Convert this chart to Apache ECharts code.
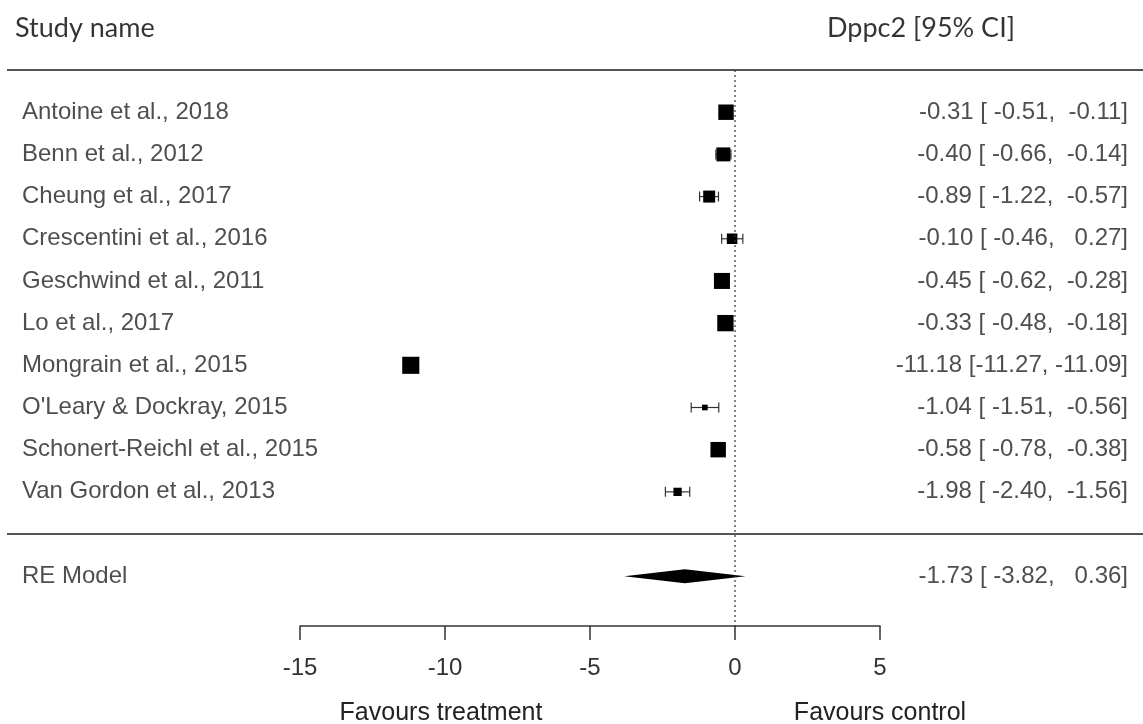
<!DOCTYPE html>
<html>
<head>
    <meta charset="utf-8" />
    <title>Forest plot - Dppc2</title>
    <script src="https://cdn.jsdelivr.net/npm/echarts@6/dist/echarts.min.js"></script>
    <style>
        * { margin: 0; padding: 0; box-sizing: border-box }
        body { background: #fff }
        #forest-chart { width: 1143px; height: 724px }
    </style>
</head>
<body>
    <div id="forest-chart"></div>

    <script>
        // study rows, top to bottom
        const studies = ['Antoine et al., 2018', 'Benn et al., 2012', 'Cheung et al., 2017', 'Crescentini et al., 2016',
            'Geschwind et al., 2011', 'Lo et al., 2017', 'Mongrain et al., 2015', "O'Leary & Dockray, 2015",
            'Schonert-Reichl et al., 2015', 'Van Gordon et al., 2013'];
        const estimates = [-0.31, -0.40, -0.89, -0.10, -0.45, -0.33, -11.18, -1.04, -0.58, -1.98];
        const lowerCI = [-0.51, -0.66, -1.22, -0.46, -0.62, -0.48, -11.27, -1.51, -0.78, -2.40];
        const upperCI = [-0.11, -0.14, -0.57, 0.27, -0.28, -0.18, -11.09, -0.56, -0.38, -1.56];

        const pooledLabel = 'RE Model';
        const pooledEstimate = -1.73;
        const pooledLower = -3.82;
        const pooledUpper = 0.36;

        const xTicks = [-15, -10, -5, 0, 5];
        const refValue = 0;

        const chart = echarts.init(document.getElementById('forest-chart'));

        const k = studies.length;
        const ROW_MIN = -2.18, ROW_MAX = 12.66;
        const PAGE_W = 1143;
        const LABEL_FONT = "'Liberation Sans', Arial, sans-serif";
        const HEAD_FONT = "Lato, 'Open Sans', sans-serif";

        function pad(s, n) { while (s.length < n) s = ' ' + s; return s; }
        function ciText(e, l, u) {
            return e.toFixed(2) + ' [' + pad(l.toFixed(2), 6) + ', ' + pad(u.toFixed(2), 6) + ']';
        }

        // box size like metafor: linear in weight, rescaled to 0.5..1.5
        const vi = lowerCI.map((l, i) => Math.pow((upperCI[i] - l) / 3.92, 2));
        const viMin = Math.min(...vi), viMax = Math.max(...vi);
        const boxSize = vi.map(v => 11.4 * (0.5 + (viMax - v) / (viMax - viMin)));

        const studyData = studies.map((s, i) => [estimates[i], lowerCI[i], upperCI[i], k - i, boxSize[i]]);
        const pooledData = [[pooledEstimate, pooledLower, pooledUpper, -1]];

        const nameLabels = studies.map((s, i) => [22, k - i, s]).concat([[22, -1, pooledLabel]]);
        const ciLabels = studies.map((s, i) => [1128, k - i, ciText(estimates[i], lowerCI[i], upperCI[i])])
            .concat([[1128, -1, ciText(pooledEstimate, pooledLower, pooledUpper)]]);
        const headLabels = [[15, k + 2, 'Study name'], [827, k + 2, 'Dppc2 [95% CI]']];

        function renderStudy(params, api) {
            const est = api.value(0), lo = api.value(1), hi = api.value(2), row = api.value(3), size = api.value(4);
            const pLo = api.coord([lo, row]), pHi = api.coord([hi, row]), pE = api.coord([est, row]);
            const cap = 5;
            const ls = { stroke: '#333', lineWidth: 1.2 };
            return {
                type: 'group',
                children: [
                    { type: 'line', shape: { x1: pLo[0], y1: pLo[1], x2: pHi[0], y2: pHi[1] }, style: ls },
                    { type: 'line', shape: { x1: pLo[0], y1: pLo[1] - cap, x2: pLo[0], y2: pLo[1] + cap }, style: ls },
                    { type: 'line', shape: { x1: pHi[0], y1: pHi[1] - cap, x2: pHi[0], y2: pHi[1] + cap }, style: ls },
                    { type: 'rect', shape: { x: pE[0] - size / 2, y: pE[1] - size / 2, width: size, height: size }, style: { fill: '#000' } }
                ]
            };
        }

        function renderDiamond(params, api) {
            const est = api.value(0), lo = api.value(1), hi = api.value(2), row = api.value(3);
            const pLo = api.coord([lo, row]), pHi = api.coord([hi, row]), pE = api.coord([est, row]);
            const h = 7;
            return {
                type: 'polygon',
                shape: { points: [[pLo[0], pLo[1]], [pE[0], pE[1] - h], [pHi[0], pHi[1]], [pE[0], pE[1] + h]] },
                style: { fill: '#000' }
            };
        }

        const option = {
            animation: false,
            backgroundColor: '#fff',
            grid: [
                { left: 300, right: 263, top: 0, bottom: 98 },
                { left: 0, right: 0, top: 0, bottom: 98 }
            ],
            xAxis: [
                {
                    gridIndex: 0, type: 'value', min: xTicks[0], max: xTicks[xTicks.length - 1], interval: 5,
                    axisLine: { show: true, onZero: false, lineStyle: { color: '#333', width: 1.5 } },
                    axisTick: { show: true, length: 14, lineStyle: { color: '#333', width: 1.5 } },
                    axisLabel: { color: '#333', fontSize: 24, fontFamily: LABEL_FONT, margin: 30 },
                    splitLine: { show: false }
                },
                { gridIndex: 1, type: 'value', min: 0, max: PAGE_W, show: false }
            ],
            yAxis: [
                { gridIndex: 0, type: 'value', min: ROW_MIN, max: ROW_MAX, show: false },
                { gridIndex: 1, type: 'value', min: ROW_MIN, max: ROW_MAX, show: false }
            ],
            graphic: [
                { type: 'text', x: 441, y: 713, style: { text: 'Favours treatment', font: '25px ' + LABEL_FONT, fill: '#222', textAlign: 'center', textVerticalAlign: 'middle' } },
                { type: 'text', x: 880, y: 713, style: { text: 'Favours control', font: '25px ' + LABEL_FONT, fill: '#222', textAlign: 'center', textVerticalAlign: 'middle' } }
            ],
            series: [
                {
                    // horizontal rules
                    type: 'line', xAxisIndex: 1, yAxisIndex: 1, symbol: 'none', silent: true,
                    data: [[7, k + 1], [PAGE_W, k + 1], null, [7, 0], [PAGE_W, 0]],
                    connectNulls: false,
                    lineStyle: { color: '#555', width: 2 }
                },
                {
                    // reference line at 0
                    type: 'line', xAxisIndex: 0, yAxisIndex: 0, symbol: 'none', silent: true,
                    data: [[refValue, k + 1], [refValue, ROW_MIN]],
                    lineStyle: { color: '#333', width: 1.2, type: [2, 3] }
                },
                {
                    type: 'custom', xAxisIndex: 0, yAxisIndex: 0,
                    renderItem: renderStudy, data: studyData, encode: { x: [0, 1, 2], y: 3 }
                },
                {
                    type: 'custom', xAxisIndex: 0, yAxisIndex: 0,
                    renderItem: renderDiamond, data: pooledData, encode: { x: [0, 1, 2], y: 3 }
                },
                {
                    type: 'scatter', xAxisIndex: 1, yAxisIndex: 1, symbolSize: 1,
                    itemStyle: { color: 'rgba(0,0,0,0)' }, data: nameLabels,
                    label: {
                        show: true, position: 'inside', align: 'left', verticalAlign: 'middle',
                        color: '#222', fontSize: 24, fontFamily: LABEL_FONT,
                        formatter: p => p.value[2]
                    }
                },
                {
                    type: 'scatter', xAxisIndex: 1, yAxisIndex: 1, symbolSize: 1,
                    itemStyle: { color: 'rgba(0,0,0,0)' }, data: ciLabels,
                    label: {
                        show: true, position: 'inside', align: 'right', verticalAlign: 'middle',
                        color: '#222', fontSize: 24, fontFamily: LABEL_FONT,
                        formatter: p => p.value[2]
                    }
                },
                {
                    type: 'scatter', xAxisIndex: 1, yAxisIndex: 1, symbolSize: 1,
                    itemStyle: { color: 'rgba(0,0,0,0)' }, data: headLabels,
                    label: {
                        show: true, position: 'inside', align: 'left', verticalAlign: 'middle',
                        color: '#000', fontSize: 27, fontFamily: HEAD_FONT,
                        formatter: p => p.value[2]
                    }
                }
            ]
        };

        chart.setOption(option);
    </script>
</body>
</html>
